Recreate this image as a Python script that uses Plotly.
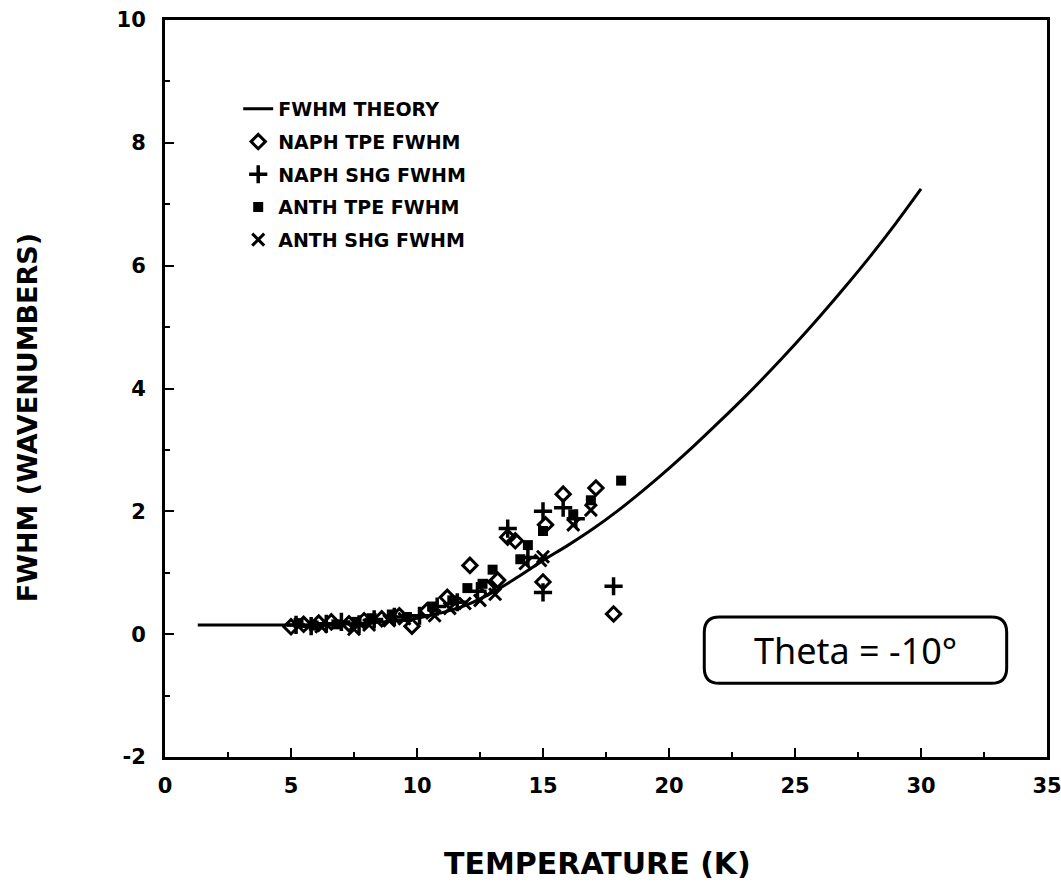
import plotly.graph_objects as go

# Theoretical FWHM curve (temperature in K, width in wavenumbers)
theory_t = [1.3, 3.0, 5.0, 7.0, 8.0, 9.0, 10.0, 11.0, 12.0, 13.0, 14.0, 15.0, 16.0,
            17.0, 18.0, 19.0, 20.0, 21.0, 22.0, 23.0, 24.0, 25.0, 26.0, 27.0, 28.0,
            29.0, 30.0]
theory_w = [0.15, 0.15, 0.15, 0.16, 0.18, 0.21, 0.26, 0.35, 0.48, 0.68, 0.93, 1.2, 1.45,
            1.72, 2.02, 2.35, 2.7, 3.07, 3.46, 3.86, 4.28, 4.72, 5.18, 5.66, 6.16,
            6.69, 7.25]

# Naphthalene, two-photon excitation
naph_tpe_t = [5.0, 5.5, 6.1, 6.6, 7.3, 7.9, 8.6, 9.3, 9.8, 10.4, 11.2, 12.1, 12.8,
              13.2, 13.6, 13.9, 15.0, 15.1, 15.8, 17.1, 17.8]
naph_tpe_w = [0.12, 0.16, 0.18, 0.2, 0.17, 0.22, 0.25, 0.3, 0.13, 0.38, 0.6, 1.12, 0.75,
              0.88, 1.58, 1.52, 0.85, 1.78, 2.28, 2.38, 0.33]

# Naphthalene, second harmonic generation
naph_shg_t = [5.2, 5.8, 6.4, 7.0, 7.7, 8.3, 9.1, 10.1, 10.8, 11.6, 12.4, 13.6, 14.4,
              15.0, 15.0, 15.8, 16.3, 17.8]
naph_shg_w = [0.15, 0.13, 0.17, 0.2, 0.16, 0.24, 0.28, 0.3, 0.45, 0.52, 0.7, 1.72, 1.25,
              0.68, 2.0, 2.06, 1.88, 0.78]

# Anthracene, two-photon excitation
anth_tpe_t = [5.3, 5.9, 6.8, 7.6, 8.2, 9.0, 9.6, 10.6, 11.4, 12.0, 12.6, 13.0, 14.1,
              14.4, 15.0, 16.2, 16.9, 18.1]
anth_tpe_w = [0.18, 0.14, 0.16, 0.2, 0.26, 0.32, 0.28, 0.45, 0.55, 0.75, 0.82, 1.05, 1.22,
              1.45, 1.68, 1.95, 2.18, 2.5]

# Anthracene, second harmonic generation
anth_shg_t = [6.2, 7.5, 8.1, 8.9, 9.5, 10.7, 11.3, 11.9, 12.5, 13.1, 14.3, 14.9, 15.0,
              16.2, 16.9]
anth_shg_w = [0.12, 0.08, 0.15, 0.22, 0.25, 0.3, 0.42, 0.5, 0.55, 0.65, 1.15, 1.2, 1.26,
              1.78, 2.02]

x_ticks = [0, 5, 10, 15, 20, 25, 30, 35]
y_ticks = [-2, 0, 2, 4, 6, 8, 10]

black = "black"
bold_font = "DejaVu Sans, sans-serif"

fig = go.Figure()
fig.add_trace(go.Scatter(x=theory_t, y=theory_w, mode="lines", name="FWHM THEORY",
                         line=dict(color=black, width=3, shape="spline"),
                         legendgroup="a"))
fig.add_trace(go.Scatter(x=naph_tpe_t, y=naph_tpe_w, mode="markers", name="NAPH TPE FWHM",
                         marker=dict(symbol="diamond-open", size=11, color=black,
                                     line=dict(width=3, color=black)),
                         legendgroup="b"))
fig.add_trace(go.Scatter(x=naph_shg_t, y=naph_shg_w, mode="markers", name="NAPH SHG FWHM",
                         marker=dict(symbol="cross-thin", size=13, color=black,
                                     line=dict(width=3.5, color=black)),
                         legendgroup="c"))
fig.add_trace(go.Scatter(x=anth_tpe_t, y=anth_tpe_w, mode="markers", name="ANTH TPE FWHM",
                         marker=dict(symbol="square", size=10, color=black),
                         legendgroup="d"))
fig.add_trace(go.Scatter(x=anth_shg_t, y=anth_shg_w, mode="markers", name="ANTH SHG FWHM",
                         marker=dict(symbol="x-thin", size=12, color=black,
                                     line=dict(width=3, color=black)),
                         legendgroup="e"))

axis_common = dict(showgrid=False, zeroline=False, showline=True, linecolor=black,
                   linewidth=3, mirror=True, ticks="inside", tickcolor=black,
                   tickwidth=2, ticklen=9, automargin=False,
                   ticklabeloverflow="allow",
                   tickfont=dict(family=bold_font, size=21, color=black, weight="bold"))

fig.update_xaxes(range=[0, 35], tickvals=x_ticks, ticktext=[str(v) for v in x_ticks],
                 minor=dict(dtick=2.5, ticks="inside", ticklen=5, tickwidth=2,
                            tickcolor=black),
                 ticklabelstandoff=8, **axis_common)
fig.update_yaxes(range=[-2, 10], tickvals=y_ticks, ticktext=[str(v) for v in y_ticks],
                 minor=dict(dtick=1, ticks="inside", ticklen=5, tickwidth=2,
                            tickcolor=black),
                 ticklabelstandoff=12, **axis_common)

# Rounded annotation box
x0, x1, y0, y1 = 21.4, 33.4, -0.8, 0.28
rx, ry = 0.6, 0.25
box_path = (f"M {x0+rx},{y1} L {x1-rx},{y1} Q {x1},{y1} {x1},{y1-ry} "
            f"L {x1},{y0+ry} Q {x1},{y0} {x1-rx},{y0} L {x0+rx},{y0} "
            f"Q {x0},{y0} {x0},{y0+ry} L {x0},{y1-ry} Q {x0},{y1} {x0+rx},{y1} Z")
fig.add_shape(type="path", path=box_path, xref="x", yref="y",
              line=dict(color=black, width=3))
fig.add_annotation(x=(x0 + x1) / 2, y=(y0 + y1) / 2, xref="x", yref="y",
                   text="Theta = -10°", showarrow=False,
                   font=dict(family="Noto Sans, sans-serif", size=36, color=black))

# Axis titles
fig.add_annotation(x=-0.155, y=0.46, xref="paper", yref="paper",
                   text="FWHM (WAVENUMBERS)", textangle=-90, showarrow=False,
                   xanchor="center", yanchor="middle",
                   font=dict(family=bold_font, size=27, color=black, weight="bold"))
fig.add_annotation(x=0.49, y=-0.145, xref="paper", yref="paper",
                   text="TEMPERATURE (K)", showarrow=False,
                   xanchor="center", yanchor="middle",
                   font=dict(family=bold_font, size=30, color=black, weight="bold"))

fig.update_layout(
    width=1061, height=888,
    margin=dict(l=165, r=14, t=20, b=131, autoexpand=False),
    paper_bgcolor="white", plot_bgcolor="white",
    showlegend=True,
    legend=dict(x=0.083, y=0.905, xanchor="left", yanchor="top",
                bgcolor="rgba(0,0,0,0)", tracegroupgap=5,
                font=dict(family=bold_font, size=19, color=black, weight="bold")),
)

fig.write_html("out.html")
